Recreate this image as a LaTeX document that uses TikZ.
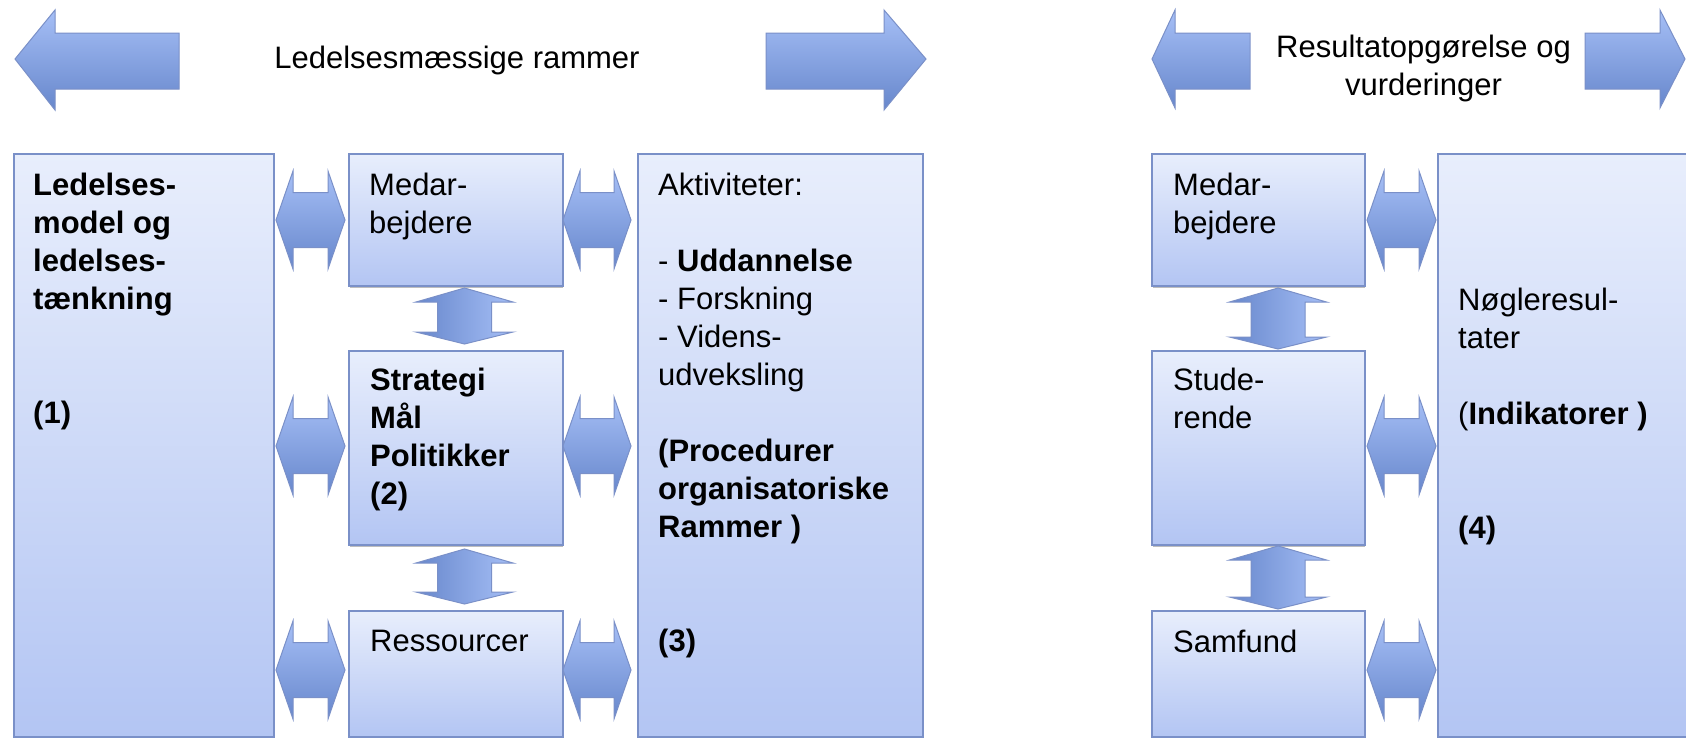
\documentclass[tikz,border=0pt]{standalone}
\usepackage{fontspec}
\setmainfont{Liberation Sans}
\definecolor{boxtop}{HTML}{E8EEFC}
\definecolor{boxbot}{HTML}{B3C5F3}
\definecolor{edge}{HTML}{7A90C8}
\definecolor{arrlight}{HTML}{A6BFF6}
\definecolor{arrdark}{HTML}{6787CC}
\definecolor{shadowgray}{HTML}{BDBDBD}
\newcommand{\fl}{\rule{0pt}{28pt}}
\newcommand{\hdarr}[3]{% left x, right x, centre y
  \path[harrow] (#1,#3) -- ({#1+17},{#3-49}) -- ({#1+17},{#3-27.5}) -- ({#2-17},{#3-27.5}) -- ({#2-17},{#3-49}) -- (#2,#3) -- ({#2-17},{#3+49}) -- ({#2-17},{#3+27.5}) -- ({#1+17},{#3+27.5}) -- ({#1+17},{#3+49}) -- cycle;}
\newcommand{\vdarr}[3]{% centre x, top y, bottom y
  \path[varrow] (#1,#2) -- ({#1+48.5},{#2+14}) -- ({#1+27},{#2+14}) -- ({#1+27},{#3-12}) -- ({#1+48.5},{#3-12}) -- (#1,#3) -- ({#1-48.5},{#3-12}) -- ({#1-27},{#3-12}) -- ({#1-27},{#2+14}) -- ({#1-48.5},{#2+14}) -- cycle;}
\begin{document}
\begin{tikzpicture}[x=1pt,y=-1pt,
  box/.style={rectangle, draw=edge, line width=1.5pt, top color=boxtop, bottom color=boxbot, inner sep=0pt, anchor=north west},
  harrow/.style={draw=edge, line width=1pt, top color=arrlight, bottom color=arrdark},
  varrow/.style={draw=edge, line width=1pt, left color=arrdark, right color=arrlight},
  bigarrow/.style={draw=edge, line width=1pt, top color=arrlight, bottom color=arrdark},
  txt/.style={anchor=north west, align=left, inner sep=0pt, font=\fontsize{31}{38}\selectfont},
  ttl/.style={anchor=north, align=center, inner sep=0pt, font=\fontsize{31}{38}\selectfont},
  shd/.style={shadowgray, line width=2.5pt}
  ]
\useasboundingbox (0,0) rectangle (1686,737);
\clip (0,0) rectangle (1686,737);
\fill[white] (0,0) rectangle (1686,737);

% ---------- top block arrows and titles ----------
\path[bigarrow] (15,59) -- (55,10) -- (55,33) -- (179,33) -- (179,89) -- (55,89) -- (55,110) -- cycle;
\path[bigarrow] (926,59) -- (884,10) -- (884,33) -- (766,33) -- (766,89) -- (884,89) -- (884,110) -- cycle;
\node[ttl, anchor=base] (title1) at (457,68) {Ledelsesmæssige rammer};

\path[bigarrow] (1152,59) -- (1175,10) -- (1175,33) -- (1250,33) -- (1250,89) -- (1175,89) -- (1175,108) -- cycle;
\path[bigarrow] (1685,59) -- (1660,10) -- (1660,33) -- (1585,33) -- (1585,89) -- (1660,89) -- (1660,108) -- cycle;
\node[ttl] (title2) at (1423.5,29) {\fl Resultatopgørelse og\\vurderinger};

% ---------- left group boxes ----------
\draw[shd] (350,287) -- (563,287);
\draw[shd] (350,546) -- (563,546);
\node[box, minimum width=260pt, minimum height=583pt] (b1) at (13,153) {};
\node[box, minimum width=214pt, minimum height=132pt] (m1) at (348,153) {};
\node[box, minimum width=214pt, minimum height=194pt] (s1) at (348,350) {};
\node[box, minimum width=214pt, minimum height=126pt] (r1) at (348,610) {};
\node[box, minimum width=285pt, minimum height=583pt] (a1) at (637,153) {};

\node[txt, font=\fontsize{31}{38}\selectfont\bfseries] (t1) at (33,167) {\fl Ledelses-\\model og\\ledelses-\\tænkning\\[76pt](1)};
\node[txt] (tm1) at (369,167) {\fl Medar-\\bejdere};
\node[txt, font=\fontsize{31}{38}\selectfont\bfseries] (ts1) at (370,362) {\fl Strategi\\Mål\\Politikker\\(2)};
\node[txt] (tr1) at (370,623) {\fl Ressourcer};
\node[txt] (ta1) at (658,167) {\fl Aktiviteter:\\[38pt]- \textbf{Uddannelse}\\- Forskning\\- Videns-\\udveksling\\[38pt]\textbf{(Procedurer}\\\textbf{organisatoriske}\\\textbf{Rammer )}\\[76pt]\textbf{(3)}};

% ---------- left group arrows ----------
\hdarr{276}{345}{220}
\hdarr{276}{345}{446}
\hdarr{276}{345}{670}
\hdarr{563}{631}{220}
\hdarr{563}{631}{446}
\hdarr{563}{631}{670}
\vdarr{464.5}{288}{344}
\vdarr{464.5}{549}{604}

% ---------- right group boxes ----------
\draw[shd] (1153,287) -- (1365,287);
\draw[shd] (1153,546) -- (1365,546);
\node[box, minimum width=213pt, minimum height=132pt] (m2) at (1151,153) {};
\node[box, minimum width=213pt, minimum height=194pt] (s2) at (1151,350) {};
\node[box, minimum width=213pt, minimum height=126pt] (f2) at (1151,610) {};
\node[box, minimum width=270pt, minimum height=583pt] (n2) at (1437,153) {};

\node[txt] (tm2) at (1173,167) {\fl Medar-\\bejdere};
\node[txt] (ts2) at (1173,362) {\fl Stude-\\rende};
\node[txt] (tf2) at (1173,624) {\fl Samfund};
\node[txt] (tn2) at (1458,282) {\fl Nøgleresul-\\tater\\[38pt](\textbf{Indikatorer )}\\[76pt]\textbf{(4)}};

% ---------- right group arrows ----------
\hdarr{1367}{1436}{220}
\hdarr{1367}{1436}{446}
\hdarr{1367}{1436}{670}
\vdarr{1278}{288}{349}
\vdarr{1278}{546}{609}
\end{tikzpicture}
\end{document}
